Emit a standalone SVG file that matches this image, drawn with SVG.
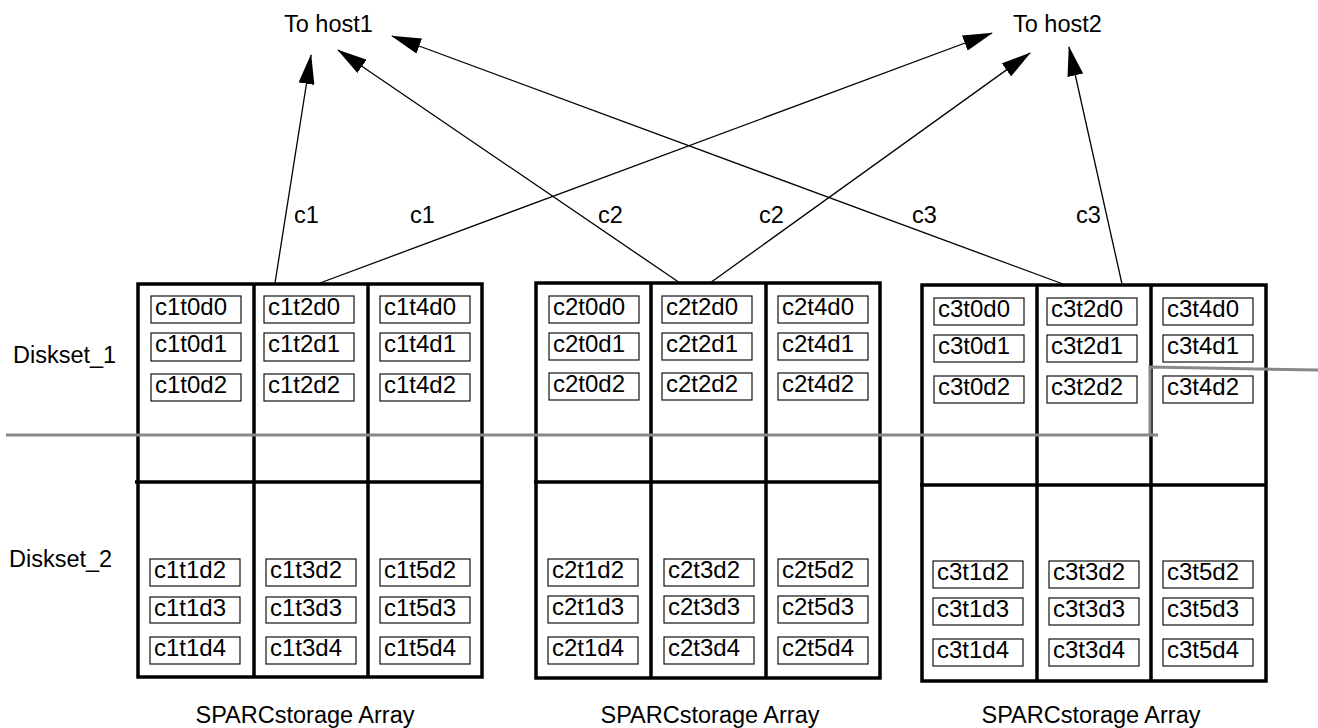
<svg xmlns="http://www.w3.org/2000/svg" width="1318" height="728" viewBox="0 0 1318 728">
  <style>
    text { font-family: "Liberation Sans", Arial, sans-serif; font-size: 23.5px; fill: #000; }
    .disk text { font-size: 24px; }
    .frame { fill: none; stroke: #000; stroke-width: 3.5; }
    .div { stroke: #000; stroke-width: 3.5; }
    .disk rect { fill: #fff; stroke: #111; stroke-width: 1.2; }
    .conn { stroke: #000; stroke-width: 1.3; fill: none; marker-end: url(#head); }
    .split { stroke: #888; stroke-width: 3; fill: none; }
  </style>
  <defs>
    <marker id="head" markerUnits="userSpaceOnUse" markerWidth="30" markerHeight="16" refX="29" refY="8" orient="auto" viewBox="0 0 30 16">
      <path d="M0,0 L30,8 L0,16 Z" fill="#000"/>
    </marker>
  </defs>

  <rect width="1318" height="728" fill="#fff"/>

  <!-- host endpoints -->
  <g id="host1"><text x="284" y="32">To host1</text></g>
  <g id="host2"><text x="1013" y="32">To host2</text></g>

  <!-- diskset captions -->
  <g id="diskset1-label"><text x="13" y="363">Diskset_1</text></g>
  <g id="diskset2-label"><text x="9" y="567">Diskset_2</text></g>

  <!-- array 1 -->
  <g id="array1">
    <rect class="frame" x="138" y="284" width="344" height="393"/>
    <line class="div" x1="254" y1="284" x2="254" y2="677"/>
    <line class="div" x1="368" y1="284" x2="368" y2="677"/>
    <line class="div" x1="135" y1="482" x2="482" y2="482"/>
    <g id="c1t0d0" class="disk"><rect x="151" y="296" width="90" height="27"/><text x="155" y="315">c1t0d0</text></g>
    <g id="c1t0d1" class="disk"><rect x="151" y="333" width="90" height="28"/><text x="155" y="352">c1t0d1</text></g>
    <g id="c1t0d2" class="disk"><rect x="151" y="374" width="90" height="27"/><text x="155" y="393">c1t0d2</text></g>
    <g id="c1t2d0" class="disk"><rect x="264" y="296" width="90" height="27"/><text x="268" y="315">c1t2d0</text></g>
    <g id="c1t2d1" class="disk"><rect x="264" y="333" width="90" height="28"/><text x="268" y="352">c1t2d1</text></g>
    <g id="c1t2d2" class="disk"><rect x="264" y="374" width="90" height="27"/><text x="268" y="393">c1t2d2</text></g>
    <g id="c1t4d0" class="disk"><rect x="380" y="296" width="90" height="27"/><text x="384" y="315">c1t4d0</text></g>
    <g id="c1t4d1" class="disk"><rect x="380" y="333" width="90" height="28"/><text x="384" y="352">c1t4d1</text></g>
    <g id="c1t4d2" class="disk"><rect x="380" y="374" width="90" height="27"/><text x="384" y="393">c1t4d2</text></g>
    <g id="c1t1d2" class="disk"><rect x="150" y="559" width="90" height="27"/><text x="154" y="578">c1t1d2</text></g>
    <g id="c1t1d3" class="disk"><rect x="150" y="597" width="90" height="26"/><text x="154" y="616">c1t1d3</text></g>
    <g id="c1t1d4" class="disk"><rect x="150" y="637" width="90" height="27"/><text x="154" y="656">c1t1d4</text></g>
    <g id="c1t3d2" class="disk"><rect x="266" y="559" width="90" height="27"/><text x="270" y="578">c1t3d2</text></g>
    <g id="c1t3d3" class="disk"><rect x="266" y="597" width="90" height="26"/><text x="270" y="616">c1t3d3</text></g>
    <g id="c1t3d4" class="disk"><rect x="266" y="637" width="90" height="27"/><text x="270" y="656">c1t3d4</text></g>
    <g id="c1t5d2" class="disk"><rect x="380" y="559" width="90" height="27"/><text x="384" y="578">c1t5d2</text></g>
    <g id="c1t5d3" class="disk"><rect x="380" y="597" width="90" height="26"/><text x="384" y="616">c1t5d3</text></g>
    <g id="c1t5d4" class="disk"><rect x="380" y="637" width="90" height="27"/><text x="384" y="656">c1t5d4</text></g>
    <text x="305" y="723" text-anchor="middle">SPARCstorage Array</text>
  </g>

  <!-- array 2 -->
  <g id="array2">
    <rect class="frame" x="536" y="283" width="344" height="395"/>
    <line class="div" x1="651" y1="283" x2="651" y2="678"/>
    <line class="div" x1="766" y1="283" x2="766" y2="678"/>
    <line class="div" x1="534" y1="482" x2="880" y2="482"/>
    <g id="c2t0d0" class="disk"><rect x="549" y="296" width="90" height="27"/><text x="553" y="315">c2t0d0</text></g>
    <g id="c2t0d1" class="disk"><rect x="549" y="333" width="90" height="27"/><text x="553" y="352">c2t0d1</text></g>
    <g id="c2t0d2" class="disk"><rect x="549" y="373" width="90" height="27"/><text x="553" y="392">c2t0d2</text></g>
    <g id="c2t2d0" class="disk"><rect x="662" y="296" width="90" height="27"/><text x="666" y="315">c2t2d0</text></g>
    <g id="c2t2d1" class="disk"><rect x="662" y="333" width="90" height="27"/><text x="666" y="352">c2t2d1</text></g>
    <g id="c2t2d2" class="disk"><rect x="662" y="373" width="90" height="27"/><text x="666" y="392">c2t2d2</text></g>
    <g id="c2t4d0" class="disk"><rect x="778" y="296" width="90" height="27"/><text x="782" y="315">c2t4d0</text></g>
    <g id="c2t4d1" class="disk"><rect x="778" y="333" width="90" height="27"/><text x="782" y="352">c2t4d1</text></g>
    <g id="c2t4d2" class="disk"><rect x="778" y="373" width="90" height="27"/><text x="782" y="392">c2t4d2</text></g>
    <g id="c2t1d2" class="disk"><rect x="548" y="559" width="90" height="27"/><text x="552" y="578">c2t1d2</text></g>
    <g id="c2t1d3" class="disk"><rect x="548" y="596" width="90" height="27"/><text x="552" y="615">c2t1d3</text></g>
    <g id="c2t1d4" class="disk"><rect x="548" y="637" width="90" height="27"/><text x="552" y="656">c2t1d4</text></g>
    <g id="c2t3d2" class="disk"><rect x="664" y="559" width="90" height="27"/><text x="668" y="578">c2t3d2</text></g>
    <g id="c2t3d3" class="disk"><rect x="664" y="596" width="90" height="27"/><text x="668" y="615">c2t3d3</text></g>
    <g id="c2t3d4" class="disk"><rect x="664" y="637" width="90" height="27"/><text x="668" y="656">c2t3d4</text></g>
    <g id="c2t5d2" class="disk"><rect x="778" y="559" width="90" height="27"/><text x="782" y="578">c2t5d2</text></g>
    <g id="c2t5d3" class="disk"><rect x="778" y="596" width="90" height="27"/><text x="782" y="615">c2t5d3</text></g>
    <g id="c2t5d4" class="disk"><rect x="778" y="637" width="90" height="27"/><text x="782" y="656">c2t5d4</text></g>
    <text x="710" y="723" text-anchor="middle">SPARCstorage Array</text>
  </g>

  <!-- array 3 -->
  <g id="array3">
    <rect class="frame" x="922" y="285" width="344" height="396"/>
    <line class="div" x1="1037" y1="285" x2="1037" y2="681"/>
    <line class="div" x1="1151" y1="285" x2="1151" y2="681"/>
    <line class="div" x1="920" y1="485" x2="1266" y2="485"/>
    <g id="c3t0d0" class="disk"><rect x="934" y="298" width="90" height="27"/><text x="938" y="317">c3t0d0</text></g>
    <g id="c3t0d1" class="disk"><rect x="934" y="335" width="90" height="27"/><text x="938" y="354">c3t0d1</text></g>
    <g id="c3t0d2" class="disk"><rect x="934" y="376" width="90" height="27"/><text x="938" y="395">c3t0d2</text></g>
    <g id="c3t2d0" class="disk"><rect x="1047" y="298" width="90" height="27"/><text x="1051" y="317">c3t2d0</text></g>
    <g id="c3t2d1" class="disk"><rect x="1047" y="335" width="90" height="27"/><text x="1051" y="354">c3t2d1</text></g>
    <g id="c3t2d2" class="disk"><rect x="1047" y="376" width="90" height="27"/><text x="1051" y="395">c3t2d2</text></g>
    <g id="c3t4d0" class="disk"><rect x="1163" y="298" width="90" height="27"/><text x="1167" y="317">c3t4d0</text></g>
    <g id="c3t4d1" class="disk"><rect x="1163" y="335" width="90" height="27"/><text x="1167" y="354">c3t4d1</text></g>
    <g id="c3t4d2" class="disk"><rect x="1163" y="376" width="90" height="27"/><text x="1167" y="395">c3t4d2</text></g>
    <g id="c3t1d2" class="disk"><rect x="933" y="561" width="90" height="27"/><text x="937" y="580">c3t1d2</text></g>
    <g id="c3t1d3" class="disk"><rect x="933" y="598" width="90" height="27"/><text x="937" y="617">c3t1d3</text></g>
    <g id="c3t1d4" class="disk"><rect x="933" y="639" width="90" height="27"/><text x="937" y="658">c3t1d4</text></g>
    <g id="c3t3d2" class="disk"><rect x="1049" y="561" width="90" height="27"/><text x="1053" y="580">c3t3d2</text></g>
    <g id="c3t3d3" class="disk"><rect x="1049" y="598" width="90" height="27"/><text x="1053" y="617">c3t3d3</text></g>
    <g id="c3t3d4" class="disk"><rect x="1049" y="639" width="90" height="27"/><text x="1053" y="658">c3t3d4</text></g>
    <g id="c3t5d2" class="disk"><rect x="1163" y="561" width="90" height="27"/><text x="1167" y="580">c3t5d2</text></g>
    <g id="c3t5d3" class="disk"><rect x="1163" y="598" width="90" height="27"/><text x="1167" y="617">c3t5d3</text></g>
    <g id="c3t5d4" class="disk"><rect x="1163" y="639" width="90" height="27"/><text x="1167" y="658">c3t5d4</text></g>
    <text x="1091" y="723" text-anchor="middle">SPARCstorage Array</text>
  </g>

  <!-- boundary between the two disksets -->
  <g id="diskset-boundary">
    <polyline class="split" points="6,435 1158,435"/>
    <polyline class="split" points="1150,435 1150,367 1318,370"/>
  </g>

  <!-- controller paths to the hosts -->
  <g id="connectors">
    <line class="conn" x1="275" y1="283" x2="311" y2="55"/>
    <line class="conn" x1="320" y1="283" x2="992" y2="33"/>
    <line class="conn" x1="680" y1="283" x2="338" y2="50"/>
    <line class="conn" x1="710" y1="283" x2="1030" y2="53"/>
    <line class="conn" x1="1063" y1="284" x2="392" y2="36"/>
    <line class="conn" x1="1122" y1="284" x2="1069" y2="47"/>
    <text x="294" y="223">c1</text>
    <text x="410" y="223">c1</text>
    <text x="598" y="223">c2</text>
    <text x="759" y="223">c2</text>
    <text x="912" y="223">c3</text>
    <text x="1076" y="223">c3</text>
  </g>
</svg>
